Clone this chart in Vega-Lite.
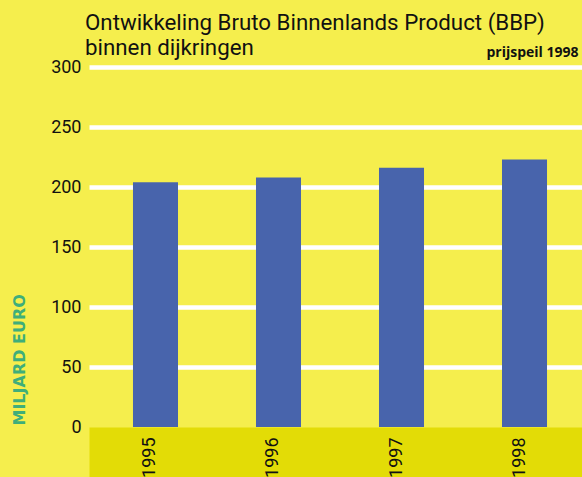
{
  "$schema": "https://vega.github.io/schema/vega-lite/v6.json",
  "width": 493,
  "height": 360,
  "autosize": {"type": "none"},
  "padding": {"left": 89, "top": 67, "right": 0, "bottom": 50},
  "background": "#F5EE4D",
  "title": {
    "text": ["Ontwikkeling Bruto Binnenlands Product (BBP)", "binnen dijkringen"],
    "anchor": "start",
    "frame": "group",
    "font": "Roboto",
    "fontSize": 22.3,
    "fontWeight": "normal",
    "color": "#111111",
    "lineHeight": 25,
    "dx": -4,
    "dy": 24,
    "offset": 10
  },
  "data": {
    "values": [
      {"year": "1995", "bbp": 204},
      {"year": "1996", "bbp": 208},
      {"year": "1997", "bbp": 216},
      {"year": "1998", "bbp": 223}
    ]
  },
  "layer": [
    {
      "mark": {"type": "bar", "color": "#4864AC"},
      "encoding": {
        "x": {
          "field": "year",
          "type": "ordinal",
          "scale": {"paddingInner": 0.634, "paddingOuter": 0.321, "align": 0.557},
          "axis": {
            "title": null,
            "zindex": 1,
            "labelAngle": -90,
            "labelAlign": "right",
            "labelBaseline": "alphabetic",
            "labelFont": "Roboto",
            "labelFontSize": 18,
            "labelColor": "#111111",
            "ticks": false,
            "tickSize": 0,
            "domain": false,
            "labelPadding": 10,
            "grid": false
          }
        },
        "y": {
          "field": "bbp",
          "type": "quantitative",
          "scale": {"domain": [0, 300]},
          "axis": {
            "title": "MILJARD EURO",
            "values": [0, 50, 100, 150, 200, 250, 300],
            "domain": false,
            "ticks": false,
            "labelPadding": 8,
            "labelFont": "Roboto",
            "labelFontSize": 18,
            "labelColor": "#111111",
            "gridColor": {"condition": {"test": "datum.value === 0", "value": "rgba(0,0,0,0)"}, "value": "#FFFFFF"},
            "gridWidth": 4.5,
            "gridOpacity": 1,
            "titleFont": "DejaVu Sans",
            "titleFontSize": 16,
            "titleFontWeight": "bold",
            "titleColor": "#3FAE7A",
            "titleAngle": -90,
            "titleAlign": "left",
            "titleBaseline": "middle",
            "titleX": -69.5,
            "titleY": 358
          }
        }
      }
    },
    {
      "mark": {"type": "bar", "opacity": 0},
      "encoding": {
        "x": {
          "field": "year",
          "type": "ordinal",
          "axis": {
            "orient": "top",
            "zindex": 0,
            "offset": -385,
            "title": "prijspeil 1998",
            "labels": false,
            "ticks": false,
            "domain": true,
            "domainColor": "#E3DC06",
            "domainWidth": 50,
            "domainCap": "butt",
            "grid": false,
            "titleFont": "Open Sans",
            "titleFontSize": 14,
            "titleFontWeight": "bold",
            "titleColor": "#111111",
            "titleAnchor": "end",
            "titleAlign": "right",
            "titleBaseline": "alphabetic",
            "titleX": 489,
            "titleY": -396
          }
        }
      }
    }
  ],
  "resolve": {"axis": {"x": "independent"}},
  "config": {"view": {"stroke": null}}
}
